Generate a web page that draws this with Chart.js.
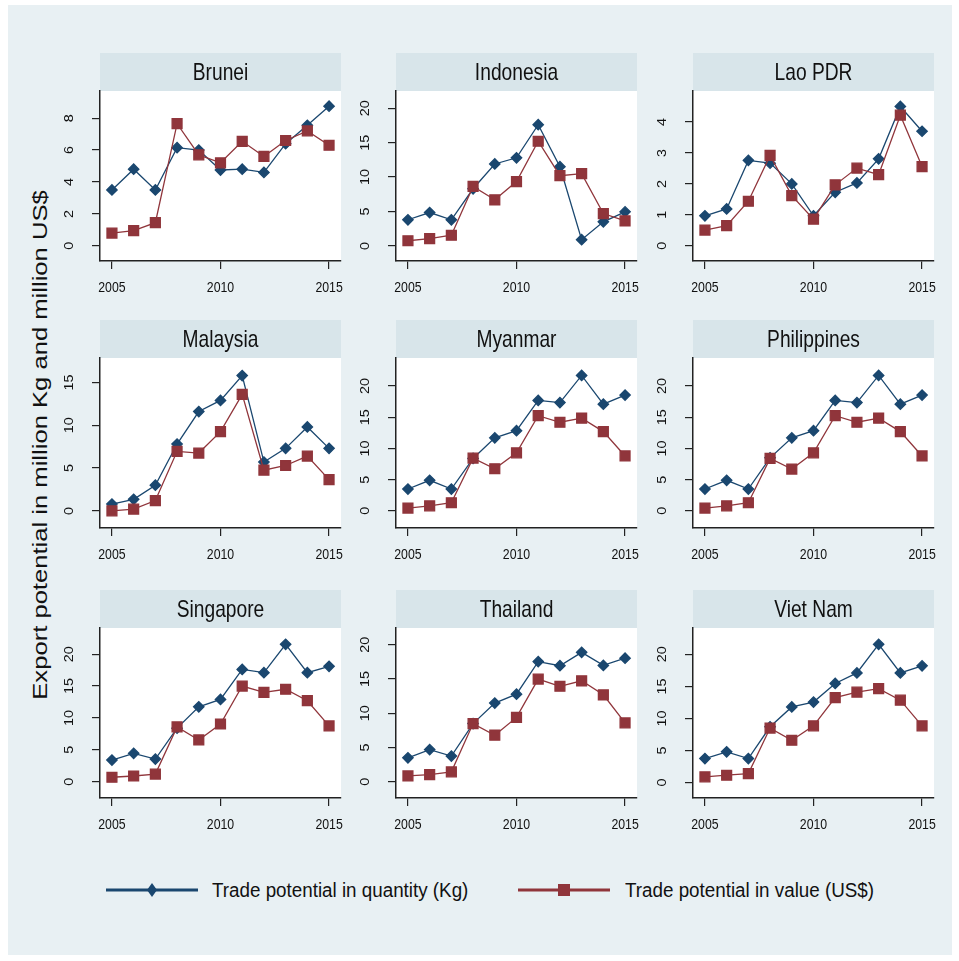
<!DOCTYPE html>
<html>
<head>
<meta charset="utf-8">
<script src="https://cdn.jsdelivr.net/npm/chart.js@4.4.1/dist/chart.umd.min.js"></script>
<style>
  body { margin: 0; background: #fff; }
  #frame { position: absolute; left: 8px; top: 5px; width: 944px; height: 950px; background: #e8f0f3; }
  canvas.panel { position: absolute; }
  #ytitle { position: absolute; left: 40px; top: 445px; transform: translate(-50%, -50%) rotate(-90deg) scaleX(1.28);
            font: 20px "Liberation Sans", Arial, sans-serif; white-space: nowrap; color: #111; }
  .lg { position: absolute; font: 20px "Liberation Sans", Arial, sans-serif; transform: scaleX(0.94); transform-origin: left center;
        color: #111; line-height: 22px; white-space: nowrap; }
  .lgk { position: absolute; }
</style>
</head>
<body>
<div id="frame"></div>
<div id="ytitle">Export potential in million Kg and million US$</div>

<svg class="lgk" style="left:106px;top:882px" width="92" height="16">
  <line x1="0" y1="8" x2="92" y2="8" stroke="#1a476f" stroke-width="3"/>
  <polygon points="46,1 51,8 46,15 41,8" fill="#1a476f"/>
</svg>
<div class="lg" style="left:212px;top:879px">Trade potential in quantity (Kg)</div>
<svg class="lgk" style="left:518px;top:882px" width="92" height="16">
  <line x1="0" y1="8" x2="92" y2="8" stroke="#90353b" stroke-width="3"/>
  <rect x="40" y="2" width="12" height="12" fill="#90353b"/>
</svg>
<div class="lg" style="left:625px;top:879px">Trade potential in value (US$)</div>

<script>
const years = [2005, 2006, 2007, 2008, 2009, 2010, 2011, 2012, 2013, 2014, 2015];
const xTicks = [2005, 2010, 2015];

const countries = ['Brunei', 'Indonesia', 'Lao PDR', 'Malaysia', 'Myanmar', 'Philippines', 'Singapore', 'Thailand', 'Viet Nam'];

// trade potential in quantity (million Kg)
const qtyBrunei = [3.5, 4.8, 3.5, 6.15, 6.0, 4.75, 4.8, 4.6, 6.4, 7.55, 8.75];
const qtyIndonesia = [3.8, 4.85, 3.8, 8.3, 11.9, 12.8, 17.6, 11.5, 0.9, 3.5, 4.95];
const qtyLao = [0.97, 1.19, 2.76, 2.67, 2.0, 0.97, 1.73, 2.03, 2.81, 4.5, 3.7];
const qtyMalaysia = [0.8, 1.35, 3.0, 7.8, 11.6, 12.9, 15.8, 5.7, 7.3, 9.8, 7.3];
const qtyMyanmar = [3.5, 4.9, 3.5, 8.4, 11.7, 12.85, 17.7, 17.35, 21.7, 17.1, 18.55];
const qtyPhilippines = [3.5, 4.9, 3.5, 8.5, 11.7, 12.85, 17.7, 17.35, 21.7, 17.1, 18.55];
const qtySingapore = [3.4, 4.45, 3.55, 8.4, 11.75, 12.9, 17.6, 17.1, 21.55, 17.1, 18.1];
const qtyThailand = [3.5, 4.7, 3.75, 8.5, 11.5, 12.8, 17.55, 16.95, 18.9, 17.0, 18.05];
const qtyVietNam = [3.75, 4.8, 3.75, 8.7, 11.8, 12.55, 15.45, 17.1, 21.55, 17.1, 18.2];

// trade potential in value (million US$)
const valBrunei = [0.8, 0.95, 1.45, 7.65, 5.7, 5.2, 6.55, 5.6, 6.6, 7.2, 6.3];
const valIndonesia = [0.75, 1.05, 1.55, 8.65, 6.7, 9.35, 15.2, 10.2, 10.5, 4.7, 3.65];
const valLao = [0.51, 0.65, 1.44, 2.92, 1.62, 0.86, 1.97, 2.51, 2.3, 4.22, 2.56];
const valMalaysia = [0.0, 0.2, 1.2, 6.95, 6.75, 9.25, 13.6, 4.75, 5.3, 6.4, 3.65];
const valMyanmar = [0.45, 0.8, 1.3, 8.45, 6.75, 9.3, 15.25, 14.2, 14.85, 12.7, 8.8];
const valPhilippines = [0.45, 0.8, 1.3, 8.4, 6.7, 9.3, 15.25, 14.2, 14.85, 12.7, 8.8];
const valSingapore = [0.7, 0.9, 1.2, 8.6, 6.55, 9.05, 15.0, 14.0, 14.5, 12.7, 8.75];
const valThailand = [0.85, 1.05, 1.45, 8.5, 6.8, 9.4, 15.0, 13.95, 14.75, 12.7, 8.6];
const valVietNam = [0.9, 1.15, 1.4, 8.5, 6.6, 8.85, 13.25, 14.1, 14.65, 12.85, 8.85];

// y axis ticks and ranges per panel
const yTicks = [[0, 2, 4, 6, 8], [0, 5, 10, 15, 20], [0, 1, 2, 3, 4],
                [0, 5, 10, 15], [0, 5, 10, 15, 20], [0, 5, 10, 15, 20],
                [0, 5, 10, 15, 20], [0, 5, 10, 15, 20], [0, 5, 10, 15, 20]];
const yMin = [-0.95, -2.19, -0.49, -2.0, -2.75, -2.75, -2.55, -2.37, -2.4];
const yMax = [9.7, 22.5, 5.0, 17.85, 24.5, 24.5, 24.1, 22.46, 24.1];

const qty = [qtyBrunei, qtyIndonesia, qtyLao, qtyMalaysia, qtyMyanmar, qtyPhilippines, qtySingapore, qtyThailand, qtyVietNam];
const val = [valBrunei, valIndonesia, valLao, valMalaysia, valMyanmar, valPhilippines, valSingapore, valThailand, valVietNam];

const colX = [100, 396, 693];
const rowY = [91, 358, 628];

const sans = '"Liberation Sans", Arial, sans-serif';
const axisColor = '#222';

// draws the title strip, white plot region and the condensed / rotated tick labels
const panelPlugin = {
  id: 'panel',
  beforeDraw(chart) {
    const { ctx, chartArea: a } = chart;
    ctx.save();
    ctx.fillStyle = '#d8e5ea';
    ctx.fillRect(a.left, a.top - 38, a.right - a.left, 38);
    ctx.fillStyle = '#fff';
    ctx.fillRect(a.left, a.top, a.right - a.left, a.bottom - a.top);
    ctx.restore();
  },
  afterDraw(chart, args, opts) {
    const { ctx, chartArea: a } = chart;
    const x = chart.scales.x, y = chart.scales.y;
    ctx.save();
    ctx.fillStyle = '#111';
    ctx.textAlign = 'center';
    ctx.textBaseline = 'middle';

    ctx.save();
    ctx.translate((a.left + a.right) / 2, a.top - 18);
    ctx.scale(0.8, 1);
    ctx.font = '24px ' + sans;
    ctx.fillText(opts.title, 0, 0);
    ctx.restore();

    ctx.font = '15px ' + sans;
    x.ticks.forEach(t => {
      ctx.save();
      ctx.translate(x.getPixelForValue(t.value), a.bottom + 27);
      ctx.scale(0.82, 1);
      ctx.fillText(String(t.value), 0, 0);
      ctx.restore();
    });

    ctx.font = '12px ' + sans;
    y.ticks.forEach(t => {
      ctx.save();
      ctx.translate(a.left - 30, y.getPixelForValue(t.value));
      ctx.rotate(-Math.PI / 2);
      ctx.scale(1.2, 1);
      ctx.fillText(String(t.value), 0, 0);
      ctx.restore();
    });
    ctx.restore();
  }
};

const pts = arr => years.map((yr, i) => ({ x: yr, y: arr[i] }));

countries.forEach((name, i) => {
  const cv = document.createElement('canvas');
  cv.className = 'panel';
  cv.width = 300;
  cv.height = 248;
  cv.style.left = (colX[i % 3] - 50) + 'px';
  cv.style.top = (rowY[Math.floor(i / 3)] - 38) + 'px';
  document.body.appendChild(cv);

  new Chart(cv, {
    type: 'line',
    data: {
      datasets: [{
        label: 'Trade potential in quantity (Kg)',
        data: pts(qty[i]),
        borderColor: '#1a476f',
        backgroundColor: '#1a476f',
        borderWidth: 1.3,
        pointStyle: 'rectRot',
        pointRadius: 5.2,
        order: 1
      }, {
        label: 'Trade potential in value (US$)',
        data: pts(val[i]),
        borderColor: '#90353b',
        backgroundColor: '#90353b',
        borderWidth: 1.3,
        pointStyle: 'rect',
        pointRadius: 7,
        order: 0
      }]
    },
    options: {
      responsive: false,
      animation: false,
      events: [],
      layout: { autoPadding: false, padding: { left: 5, right: 9, top: 38, bottom: 0 } },
      plugins: {
        legend: { display: false },
        tooltip: { enabled: false },
        panel: { title: name }
      },
      scales: {
        x: {
          type: 'linear',
          min: 2004.45,
          max: 2015.55,
          afterBuildTicks: s => { s.ticks = xTicks.map(v => ({ value: v })); },
          afterFit: s => { s.height = 40; },
          ticks: { display: false },
          grid: { drawOnChartArea: false, tickLength: 8, color: axisColor, lineWidth: 1.2 },
          border: { color: axisColor, width: 1.5 }
        },
        y: {
          min: yMin[i],
          max: yMax[i],
          afterBuildTicks: s => { s.ticks = yTicks[i].map(v => ({ value: v })); },
          afterFit: s => { s.width = 45; },
          ticks: { display: false },
          grid: { drawOnChartArea: false, tickLength: 8, color: axisColor, lineWidth: 1.2 },
          border: { color: axisColor, width: 1.5 }
        }
      }
    },
    plugins: [panelPlugin]
  });
});
</script>
</body>
</html>
